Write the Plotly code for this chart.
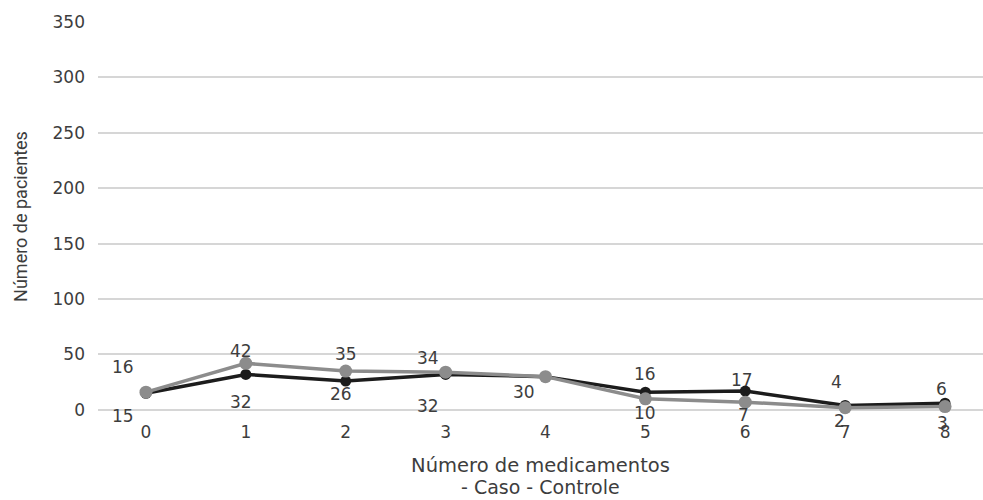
import plotly.graph_objects as go

# Number of medications per patient (x) and patient counts per group
medicamentos = [0, 1, 2, 3, 4, 5, 6, 7, 8]
caso = [15, 32, 26, 32, 30, 16, 17, 4, 6]
controle = [16, 42, 35, 34, 30, 10, 7, 2, 3]
y_ticks = [0, 50, 100, 150, 200, 250, 300, 350]

# Label offsets in pixels (xshift, yshift) for each point's value label
caso_label_shift = [(-23, -23), (-5, -28), (-5, -13), (-18, -32), None,
                    (0, 18), (-3, 11), (-9, 23), (-4, 14)]
controle_label_shift = [(-23, 25), (-5, 12), (0, 17), (-18, 14), (-21, -15),
                        (0, -14), (-2, -13), (-6, -13), (-3, -16)]

TEXT = "#3d3d3d"
NUM_FONT = "DejaVu Sans, Verdana, sans-serif"
FONT = "DejaVu Sans, Open Sans, sans-serif"

fig = go.Figure()
fig.add_trace(go.Scatter(
    x=medicamentos, y=caso, name="Caso", mode="lines+markers",
    line=dict(color="#1c1c1c", width=3.5), marker=dict(size=11, color="#1c1c1c"),
    cliponaxis=False, showlegend=False))
fig.add_trace(go.Scatter(
    x=medicamentos, y=controle, name="Controle", mode="lines+markers",
    line=dict(color="#8c8c8c", width=3.5), marker=dict(size=13, color="#8c8c8c"),
    cliponaxis=False, showlegend=False))

annotations = []
for values, shifts in ((caso, caso_label_shift), (controle, controle_label_shift)):
    for xv, yv, sh in zip(medicamentos, values, shifts):
        if sh is None:
            continue
        annotations.append(dict(
            x=xv, y=yv, xref="x", yref="y", text=str(yv), showarrow=False,
            xshift=sh[0], yshift=sh[1], font=dict(size=17, color=TEXT, family=NUM_FONT)))

# Series key under the axis title
annotations.append(dict(
    x=0.5, y=-0.196, xref="paper", yref="paper", yanchor="middle",
    text="- Caso - Controle", showarrow=False,
    font=dict(size=19, color=TEXT, family=FONT)))

fig.update_layout(
    width=983, height=500,
    margin=dict(l=98, r=0, t=22, b=89),
    plot_bgcolor="white", paper_bgcolor="white",
    annotations=annotations,
    xaxis=dict(
        range=[-0.48, 8.38], tickmode="array", tickvals=medicamentos,
        ticktext=[str(m) for m in medicamentos], showgrid=False, zeroline=False,
        showline=False, ticks="", ticklabelstandoff=9,
        tickfont=dict(size=17, color=TEXT, family=NUM_FONT),
        title=dict(text="Número de medicamentos", standoff=17,
                   font=dict(size=19.5, color=TEXT, family=FONT))),
    yaxis=dict(
        range=[-1, 350], tickmode="array", tickvals=y_ticks,
        showgrid=True, gridcolor="#d6d6d6", gridwidth=2, zeroline=False,
        showline=False, ticks="", ticklabelstandoff=12,
        tickfont=dict(size=17, color=TEXT, family=NUM_FONT),
        title=dict(text="Número de pacientes", standoff=20,
                   font=dict(size=18, color=TEXT, family="Roboto, sans-serif"))),
)

fig.write_html("out.html")
